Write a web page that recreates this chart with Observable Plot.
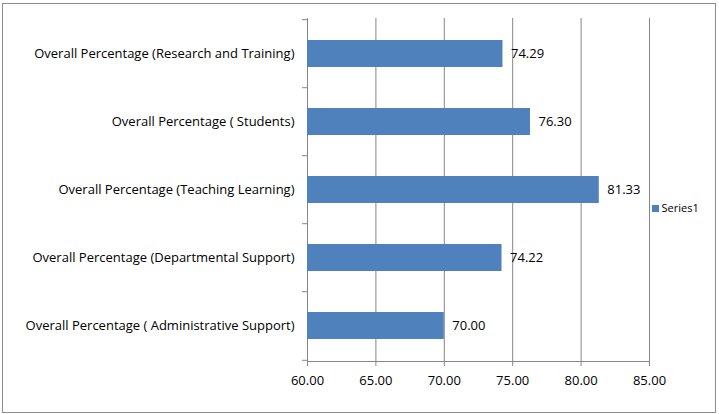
<!DOCTYPE html>
<html>
<head>
<meta charset="utf-8">
<script src="https://cdn.jsdelivr.net/npm/d3@7"></script>
<script src="https://cdn.jsdelivr.net/npm/@observablehq/plot@0.6"></script>
<style>
  body { margin: 0; background: #fff; }
  #wrap { position: relative; width: 719px; height: 414px; }
  #border { position: absolute; left: 2px; top: 3px; width: 712px; height: 408px; border: 1px solid #8c8c8c; pointer-events: none; }
</style>
</head>
<body>
<div id="wrap"><div id="chart"></div><div id="border"></div></div>
<script>
const categories = [
  "Overall Percentage (Research and Training)",
  "Overall Percentage ( Students)",
  "Overall Percentage (Teaching Learning)",
  "Overall Percentage (Departmental Support)",
  "Overall Percentage ( Administrative Support)"
];
const values = [74.29, 76.30, 81.33, 74.22, 70.00];
const xTicks = [60, 65, 70, 75, 80, 85];
const seriesName = "Series1";

const data = categories.map((c, i) => ({category: c, value: values[i]}));
const gray = "#868686";
const blue = "#4F81BD";

const chart = Plot.plot({
  width: 719,
  height: 414,
  marginLeft: 307,
  marginRight: 70,
  marginTop: 18,
  marginBottom: 53,
  style: {fontFamily: "'Open Sans', 'Liberation Sans', Arial, sans-serif", fontSize: "13px", background: "white", color: "black"},
  x: {domain: [60, 85]},
  y: {domain: categories, paddingInner: 0.6, paddingOuter: 0.3},
  marks: [
    Plot.gridX(xTicks, {stroke: gray, strokeOpacity: 1}),
    Plot.barX(data, {x1: () => 60, x2: "value", y: "category", fill: blue}),
    Plot.text(data, {x: "value", y: "category", text: d => d.value.toFixed(2), textAnchor: "start", dx: 8, fontSize: 13, fill: "black"}),
    Plot.frame({anchor: "bottom", stroke: gray}),
    Plot.axisX({ticks: xTicks, tickFormat: d => d.toFixed(2), tickSize: 5, stroke: gray, tickPadding: 9, label: null, fontSize: 13, fill: "black"}),
    Plot.axisY({tickSize: 5, tickFormat: () => "", dy: -34.3, stroke: gray, label: null}),
    Plot.axisY({ticks: [categories[categories.length - 1]], tickSize: 5, tickFormat: () => "", dy: 34.3, stroke: gray, label: null}),
    Plot.axisY({tickSize: 0, tickPadding: 13, label: null, fontSize: 13, fill: "black"}),
    Plot.dot([seriesName], {frameAnchor: "right", dx: 6, dy: 18.5, symbol: "square", r: 4, fill: blue, stroke: null}),
    Plot.text([seriesName], {frameAnchor: "right", text: d => d, dx: 12, dy: 18.5, textAnchor: "start", fontSize: 11, fill: "black"})
  ]
});
document.getElementById("chart").appendChild(chart);
</script>
</body>
</html>
